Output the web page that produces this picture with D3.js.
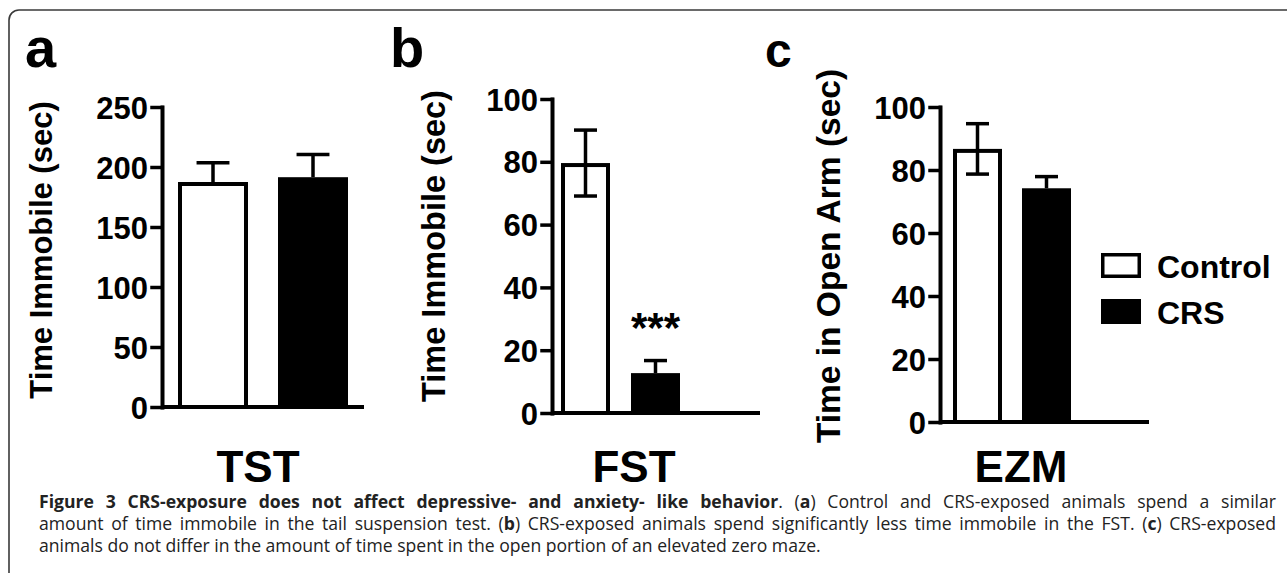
<!DOCTYPE html>
<html>
<head>
<meta charset="utf-8">
<script src="https://cdn.jsdelivr.net/npm/d3@7"></script>
<style>
  html, body { margin: 0; padding: 0; background: #fff; }
  svg { display: block; }
</style>
</head>
<body>
<svg id="fig" width="1287" height="573"></svg>
<script>
// ---- data ----
const groups = ["Control", "CRS"];
const tstMean = [187.5, 191.5];
const tstSem = [16, 19];
const fstMean = [79.6, 12.7];
const fstSem = [10.5, 4];
const ezmMean = [86.7, 74.2];
const ezmSem = [8, 3.7];
const tstTicks = [0, 50, 100, 150, 200, 250];
const fstTicks = [0, 20, 40, 60, 80, 100];
const ezmTicks = [0, 20, 40, 60, 80, 100];
const panelLetters = ["a", "b", "c"];
const testNames = ["TST", "FST", "EZM"];
const yTitles = ["Time Immobile (sec)", "Time Immobile (sec)", "Time in Open Arm (sec)"];
const stars = ["", "***", ""];

const captionLines = [
  [["Figure 3 CRS-exposure does not affect depressive- and anxiety- like behavior", true], [". (", false], ["a", true], [") Control and CRS-exposed animals spend a similar", false]],
  [["amount of time immobile in the tail suspension test. (", false], ["b", true], [") CRS-exposed animals spend significantly less time immobile in the FST. (", false], ["c", true], [") CRS-exposed", false]],
  [["animals do not differ in the amount of time spent in the open portion of an elevated zero maze.", false]]
];

// ---- layout ----
const panels = [
  {mean: tstMean, sem: tstSem, ticks: tstTicks, max: 250, axisX: 162, xEnd: 364, yTop: 107, y0: 407,
   padL: 16, bw: 70, gap: 30, both: [false, false], letterX: 25, letterSize: 56,
   titleX: 52, titleY: 250, titleSize: 31, nameX: 258},
  {mean: fstMean, sem: fstSem, ticks: fstTicks, max: 100, axisX: 552, xEnd: 760, yTop: 99, y0: 413,
   padL: 9, bw: 49, gap: 21, both: [true, false], letterX: 390, letterSize: 56,
   titleX: 445, titleY: 246, titleSize: 32.5, nameX: 634},
  {mean: ezmMean, sem: ezmSem, ticks: ezmTicks, max: 100, axisX: 940, xEnd: 1149, yTop: 107, y0: 422,
   padL: 13, bw: 49, gap: 20, both: [true, false], letterX: 765, letterSize: 48,
   titleX: 840, titleY: 256, titleSize: 33.5, nameX: 1021}
];

const svg = d3.select("#fig");
const sans = "'Liberation Sans', Arial, Helvetica, sans-serif";

// frame with rounded top-left corner
svg.append("path")
    .attr("d", "M9,580 V20 A10,10 0 0 1 19,10 H1295")
    .attr("fill", "none")
    .attr("stroke", "#3a3a3a")
    .attr("stroke-width", 1.6);

panels.forEach((p, i) => {
  const g = svg.append("g");

  const y = d3.scaleLinear().domain([0, p.max]).range([p.y0, p.yTop]);
  const x = d3.scaleBand()
      .domain(groups)
      .range([p.axisX + p.padL, p.axisX + p.padL + 2 * p.bw + p.gap])
      .paddingInner(p.gap / (p.bw + p.gap))
      .paddingOuter(0);

  // panel letter
  g.append("text")
      .attr("x", p.letterX).attr("y", 67)
      .attr("font-family", sans).attr("font-weight", "bold")
      .attr("font-size", p.letterSize)
      .text(panelLetters[i]);

  // y title
  g.append("text")
      .attr("transform", `translate(${p.titleX},${p.titleY}) rotate(-90)`)
      .attr("text-anchor", "middle")
      .attr("font-family", sans).attr("font-weight", "bold")
      .attr("font-size", p.titleSize)
      .text(yTitles[i]);

  // bars
  const bars = groups.map((k, j) => ({k: k, m: p.mean[j], s: p.sem[j], both: p.both[j]}));
  const sw = 4;
  g.selectAll("rect.bar").data(bars).enter().append("rect")
      .attr("class", "bar")
      .attr("x", d => x(d.k) + sw / 2)
      .attr("width", x.bandwidth() - sw)
      .attr("y", d => y(d.m) + sw / 2)
      .attr("height", d => p.y0 - y(d.m) - sw / 2)
      .attr("fill", (d, j) => j === 0 ? "#fff" : "#000")
      .attr("stroke", "#000")
      .attr("stroke-width", sw);

  // error bars
  const cap = x.bandwidth() * 0.47;
  bars.forEach(d => {
    const cx = x(d.k) + x.bandwidth() / 2;
    const lo = d.both ? d.m - d.s : d.m;
    g.append("line")
        .attr("x1", cx).attr("x2", cx)
        .attr("y1", y(lo)).attr("y2", y(d.m + d.s))
        .attr("stroke", "#000").attr("stroke-width", 3.5);
    g.append("line")
        .attr("x1", cx - cap / 2).attr("x2", cx + cap / 2)
        .attr("y1", y(d.m + d.s)).attr("y2", y(d.m + d.s))
        .attr("stroke", "#000").attr("stroke-width", 3.5);
    if (d.both) {
      g.append("line")
          .attr("x1", cx - cap / 2).attr("x2", cx + cap / 2)
          .attr("y1", y(lo)).attr("y2", y(lo))
          .attr("stroke", "#000").attr("stroke-width", 3.5);
    }
  });

  // significance mark
  if (stars[i]) {
    g.append("text")
        .attr("x", x("CRS") + x.bandwidth() / 2).attr("y", 342)
        .attr("text-anchor", "middle")
        .attr("font-family", sans).attr("font-weight", "bold")
        .attr("font-size", 42)
        .text(stars[i]);
  }

  // y axis
  const ax = g.append("g")
      .attr("transform", `translate(${p.axisX},0)`)
      .call(d3.axisLeft(y).tickValues(p.ticks).tickSize(10).tickSizeOuter(0).tickPadding(4));
  ax.select(".domain").attr("stroke", "#000").attr("stroke-width", 4).attr("stroke-linecap", "square");
  ax.selectAll(".tick line").attr("stroke", "#000").attr("stroke-width", 3.5).attr("stroke-linecap", "square");
  ax.selectAll(".tick text")
      .attr("font-family", sans).attr("font-weight", "bold")
      .attr("font-size", 31).attr("fill", "#000")
      .attr("dy", "0.36em");

  // x baseline
  g.append("line")
      .attr("x1", p.axisX).attr("x2", p.xEnd)
      .attr("y1", p.y0).attr("y2", p.y0)
      .attr("stroke", "#000").attr("stroke-width", 4);

  // test name
  g.append("text")
      .attr("x", p.nameX).attr("y", 482)
      .attr("text-anchor", "middle")
      .attr("font-family", sans).attr("font-weight", "bold")
      .attr("font-size", 44)
      .text(testNames[i]);
});

// legend
const leg = svg.append("g");
groups.forEach((k, j) => {
  const top = 253 + j * 46;
  leg.append("rect")
      .attr("x", 1102.75).attr("y", top + 1.75)
      .attr("width", 36.5).attr("height", 21.5)
      .attr("fill", j === 0 ? "#fff" : "#000")
      .attr("stroke", "#000").attr("stroke-width", 3.5);
  leg.append("text")
      .attr("x", 1157).attr("y", top + 25)
      .attr("font-family", sans).attr("font-weight", "bold")
      .attr("font-size", 32)
      .text(k);
});

// caption, justified between x=39 and x=1276
const capX = 39, capRight = 1276, capSize = 17.6;
captionLines.forEach((line, li) => {
  const t = svg.append("text")
      .attr("x", capX).attr("y", 508 + li * 22)
      .attr("font-family", "'Open Sans', 'Noto Sans', sans-serif")
      .attr("font-size", capSize)
      .attr("fill", "#222");
  line.forEach(seg => {
    t.append("tspan").attr("font-weight", seg[1] ? "bold" : "normal").text(seg[0]);
  });
  if (li < captionLines.length - 1) {
    const w = t.node().getComputedTextLength();
    const nSpaces = line.map(s => s[0]).join("").split(" ").length - 1;
    t.attr("word-spacing", (capRight - capX - w) / nSpaces);
  }
});
</script>
</body>
</html>
